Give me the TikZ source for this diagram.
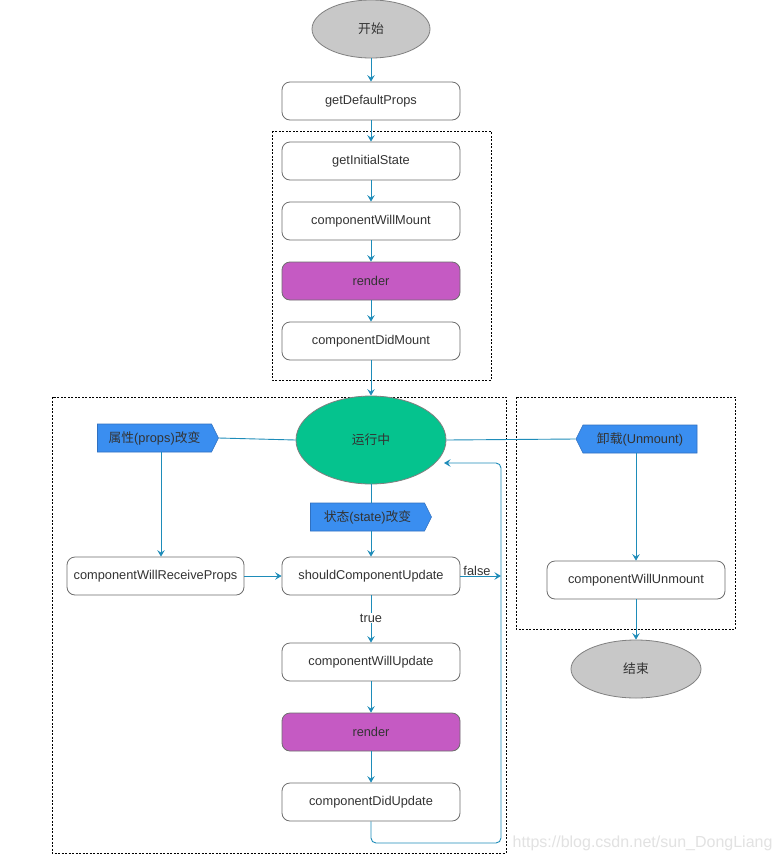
\documentclass[tikz,border=0pt]{standalone}
\usepackage{fontspec}
\setmainfont{Liberation Sans}
\newfontfamily\cjk{Noto Sans CJK SC}
\usetikzlibrary{shapes.geometric,shapes.symbols,arrows.meta}
\definecolor{connc}{HTML}{1E8CB9}
\definecolor{txt}{HTML}{333333}
\definecolor{boxline}{HTML}{6E6E6E}
\definecolor{ovline}{HTML}{808080}
\definecolor{grayfill}{HTML}{C8C8C8}
\definecolor{rendfill}{HTML}{C55AC3}
\definecolor{runfill}{HTML}{05C38E}
\definecolor{tagfill}{HTML}{3A8EF0}
\definecolor{tagline}{HTML}{3070C0}
\definecolor{wmark}{HTML}{E2E2E2}
\begin{document}
\begin{tikzpicture}[x=1pt,y=-1pt,
  every node/.style={font=\fontsize{12.8}{15}\selectfont, text=txt},
  proc/.style={draw=boxline, line width=0.8pt, rounded corners=8pt, minimum width=178pt, minimum height=38pt, fill=white, inner sep=0pt},
  rend/.style={proc, fill=rendfill},
  oval/.style={ellipse, draw=ovline, line width=0.8pt, inner sep=0pt},
  tagbox/.style={signal, fill=tagfill, draw=tagline, line width=0.6pt, minimum width=121pt, minimum height=28pt, inner sep=0pt, signal pointer angle=127},
  conn/.style={draw=connc, line width=0.9pt},
  arr/.style={conn, -{Stealth[length=6.5pt,width=7.5pt,inset=2.5pt]}},
  grp/.style={draw=black, dash pattern=on 2pt off 1.5pt, line width=0.7pt},
  lbl/.style={inner sep=1pt}
]
\useasboundingbox (0,0) rectangle (784,860);
\fill[white] (0,0) rectangle (784,860);

% groups
\draw[grp] (272,131) rectangle (491,380);
\draw[grp] (52,397) rectangle (506,853);
\draw[grp] (516,397) rectangle (735,629);

% nodes
\node[oval, fill=grayfill, minimum width=118pt, minimum height=58pt] (start) at (371,29) {\cjk 开始};
\node[proc] (gdp) at (371,101) {getDefaultProps};
\node[proc] (gis) at (371,161) {getInitialState};
\node[proc] (cwm) at (371,221) {componentWillMount};
\node[rend] (r1) at (371,281) {render};
\node[proc] (cdm) at (371,341) {componentDidMount};
\node[oval, fill=runfill, minimum width=150pt, minimum height=88pt] (run) at (371,440) {\cjk 运行中};
\node[tagbox, signal to=east] (props) at (154.5,438) {{\cjk 属性}(props){\cjk 改变}};
\node[tagbox, signal to=east] (state) at (367.5,517) {{\cjk 状态}(state){\cjk 改变}};
\node[tagbox, signal to=west] (unm) at (640,439) {{\cjk 卸载}(Unmount)};
\node[proc, minimum width=177pt] (cwrp) at (155.5,576) {componentWillReceiveProps};
\node[proc] (scu) at (371,576) {shouldComponentUpdate};
\node[lbl] (true) at (371,618) {true};
\node[proc] (cwu) at (371,662) {componentWillUpdate};
\node[rend] (r2) at (371,732) {render};
\node[proc] (cdu) at (371,802) {componentDidUpdate};
\node[proc] (cwun) at (636,580) {componentWillUnmount};
\node[oval, fill=grayfill, minimum width=130pt, minimum height=58pt] (end) at (636,669) {\cjk 结束};
\node[lbl, anchor=south] (false) at (477,577) {false};

% loop coordinates
\coordinate (lp1) at (371,843);
\coordinate (lp2) at (501,843);
\coordinate (lp3) at (501,463);
\coordinate (lp4) at (444,463);
\coordinate (fend) at (501,576);

% connectors
\draw[arr] (start) -- (gdp);
\draw[arr] (gdp) -- (gis);
\draw[arr] (gis) -- (cwm);
\draw[arr] (cwm) -- (r1);
\draw[arr] (r1) -- (cdm);
\draw[arr] (cdm) -- (run);
\draw[conn] (props.east) -- (run.west);
\draw[conn] (run.east) -- (unm.west);
\draw[arr] ([xshift=6.5pt]props.south) -- ([xshift=5.5pt]cwrp.north);
\draw[conn] (run.south) -- ([xshift=3.5pt]state.north);
\draw[arr] ([xshift=3.5pt]state.south) -- (scu.north);
\draw[arr] (cwrp) -- (scu);
\draw[conn] (scu.south) -- (true.north);
\draw[arr] (true.south) -- (cwu.north);
\draw[arr] (scu.east) -- (fend);
\draw[arr] (cwu) -- (r2);
\draw[arr] (r2) -- (cdu);
\draw[arr, rounded corners=5pt] (cdu.south) -- (lp1) -- (lp2) -- (lp3) -- (lp4);
\draw[arr] ([xshift=-4pt]unm.south) -- (cwun.north);
\draw[arr] (cwun) -- (end);

% watermark
\node[font=\fontsize{16}{18}\selectfont, text=wmark, anchor=east] (wm) at (776,843) {https://blog.csdn.net/sun\_DongLiang};
\end{tikzpicture}
\end{document}
